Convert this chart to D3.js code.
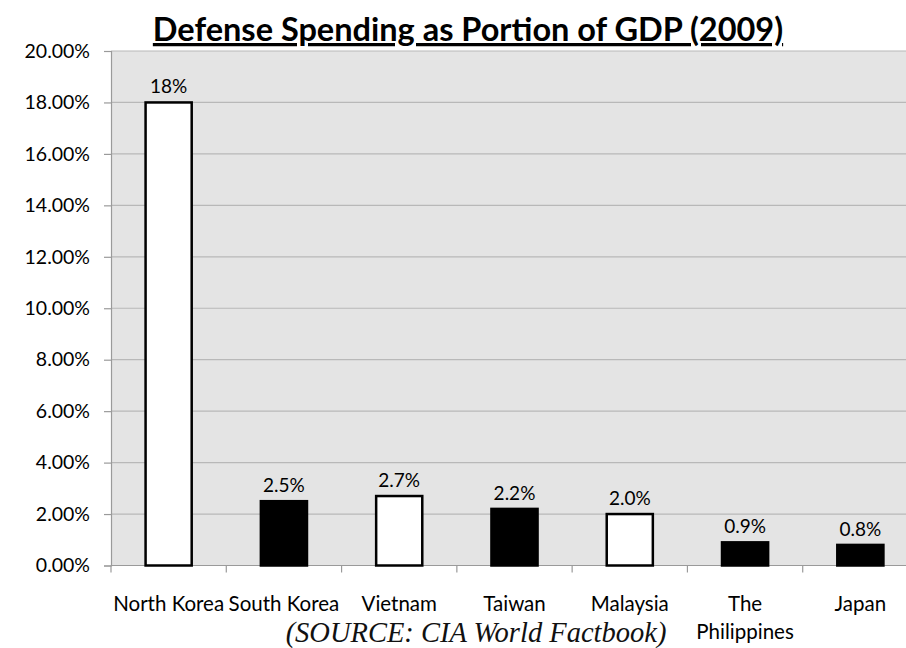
<!DOCTYPE html>
<html>
<head>
<meta charset="utf-8">
<script src="https://cdn.jsdelivr.net/npm/d3@7"></script>
<style>
  html, body { margin: 0; padding: 0; background: #fff; }
  svg { display: block; }
</style>
</head>
<body>
<svg id="chart" width="906" height="648"></svg>
<script>
// Defense spending as a share of GDP, 2009
const countries = ["North Korea", "South Korea", "Vietnam", "Taiwan", "Malaysia", "The Philippines", "Japan"];
const shares = [18, 2.5, 2.7, 2.2, 2.0, 0.9, 0.8];
const valueLabels = ["18%", "2.5%", "2.7%", "2.2%", "2.0%", "0.9%", "0.8%"];
const fills = ["white", "black", "white", "black", "white", "black", "black"];
const yTicks = [0, 2, 4, 6, 8, 10, 12, 14, 16, 18, 20];

const font = "Lato, 'Open Sans', sans-serif";
const svg = d3.select("#chart");

const plot = { left: 111, right: 918, top: 51, bottom: 565.5 };

const x = d3.scaleBand()
  .domain(countries)
  .range([plot.left, plot.right])
  .paddingInner(0.6)
  .paddingOuter(0.3);

const y = d3.scaleLinear()
  .domain([0, 20])
  .range([plot.bottom, plot.top]);

// Plot background
svg.append("rect")
  .attr("x", plot.left).attr("y", plot.top)
  .attr("width", plot.right - plot.left)
  .attr("height", plot.bottom - plot.top)
  .attr("fill", "#e4e4e4");

// Horizontal gridlines
svg.append("g")
  .selectAll("line")
  .data(yTicks)
  .join("line")
  .attr("x1", plot.left).attr("x2", plot.right)
  .attr("y1", d => y(d)).attr("y2", d => y(d))
  .attr("stroke", "#b8b8b8")
  .attr("stroke-width", 1.2);

// Y axis
const yAxis = svg.append("g")
  .attr("transform", `translate(${plot.left},0)`)
  .call(d3.axisLeft(y).tickValues(yTicks).tickFormat(d => d.toFixed(2) + "%").tickSize(7).tickPadding(14));
yAxis.select(".domain").attr("stroke", "#9a9a9a").attr("stroke-width", 1.2);
yAxis.selectAll(".tick line").attr("stroke", "#9a9a9a").attr("stroke-width", 1.2);
yAxis.selectAll("text")
  .attr("font-family", font).attr("font-size", 19.5).attr("fill", "#000");

// X axis: category boundary ticks
const bounds = d3.range(countries.length + 1).map(i => plot.left + i * x.step());
svg.append("line")
  .attr("x1", plot.left).attr("x2", plot.right)
  .attr("y1", plot.bottom).attr("y2", plot.bottom)
  .attr("stroke", "#9a9a9a").attr("stroke-width", 1.2);
svg.append("g")
  .selectAll("line")
  .data(bounds)
  .join("line")
  .attr("x1", d => d).attr("x2", d => d)
  .attr("y1", plot.bottom).attr("y2", plot.bottom + 7)
  .attr("stroke", "#9a9a9a").attr("stroke-width", 1.2);

// Bars
svg.append("g")
  .selectAll("rect")
  .data(countries)
  .join("rect")
  .attr("x", d => x(d))
  .attr("width", x.bandwidth())
  .attr("y", (d, i) => y(shares[i]))
  .attr("height", (d, i) => y(0) - y(shares[i]))
  .attr("fill", (d, i) => fills[i])
  .attr("stroke", "#000")
  .attr("stroke-width", 2.5);

// Value labels
svg.append("g")
  .selectAll("text")
  .data(countries)
  .join("text")
  .attr("x", d => x(d) + x.bandwidth() / 2)
  .attr("y", (d, i) => y(shares[i]) - 9)
  .attr("text-anchor", "middle")
  .attr("font-family", font).attr("font-size", 19).attr("fill", "#000")
  .text((d, i) => valueLabels[i]);

// Category labels (split "The Philippines" over two lines)
const catLabels = svg.append("g")
  .selectAll("text")
  .data(countries)
  .join("text")
  .attr("x", d => x(d) + x.bandwidth() / 2)
  .attr("y", 611)
  .attr("text-anchor", "middle")
  .attr("font-family", font).attr("font-size", 20.5).attr("fill", "#000");
catLabels.each(function (d) {
  const parts = d === "The Philippines" ? ["The", "Philippines"] : [d];
  const t = d3.select(this);
  parts.forEach((p, k) => {
    t.append("tspan")
      .attr("x", x(d) + x.bandwidth() / 2)
      .attr("dy", k === 0 ? 0 : 28)
      .text(p);
  });
});

// Title
svg.append("text")
  .attr("x", 468).attr("y", 41)
  .attr("text-anchor", "middle")
  .attr("font-family", font).attr("font-size", 32.5).attr("font-weight", "bold")
  .attr("text-decoration", "underline")
  .attr("fill", "#000")
  .text("Defense Spending as Portion of GDP (2009)");

// Source note
svg.append("text")
  .attr("x", 476).attr("y", 642)
  .attr("text-anchor", "middle")
  .attr("font-family", "'Liberation Serif', 'Times New Roman', serif")
  .attr("font-style", "italic").attr("font-size", 28.5).attr("fill", "#111")
  .text("(SOURCE: CIA World Factbook)");
</script>
</body>
</html>
